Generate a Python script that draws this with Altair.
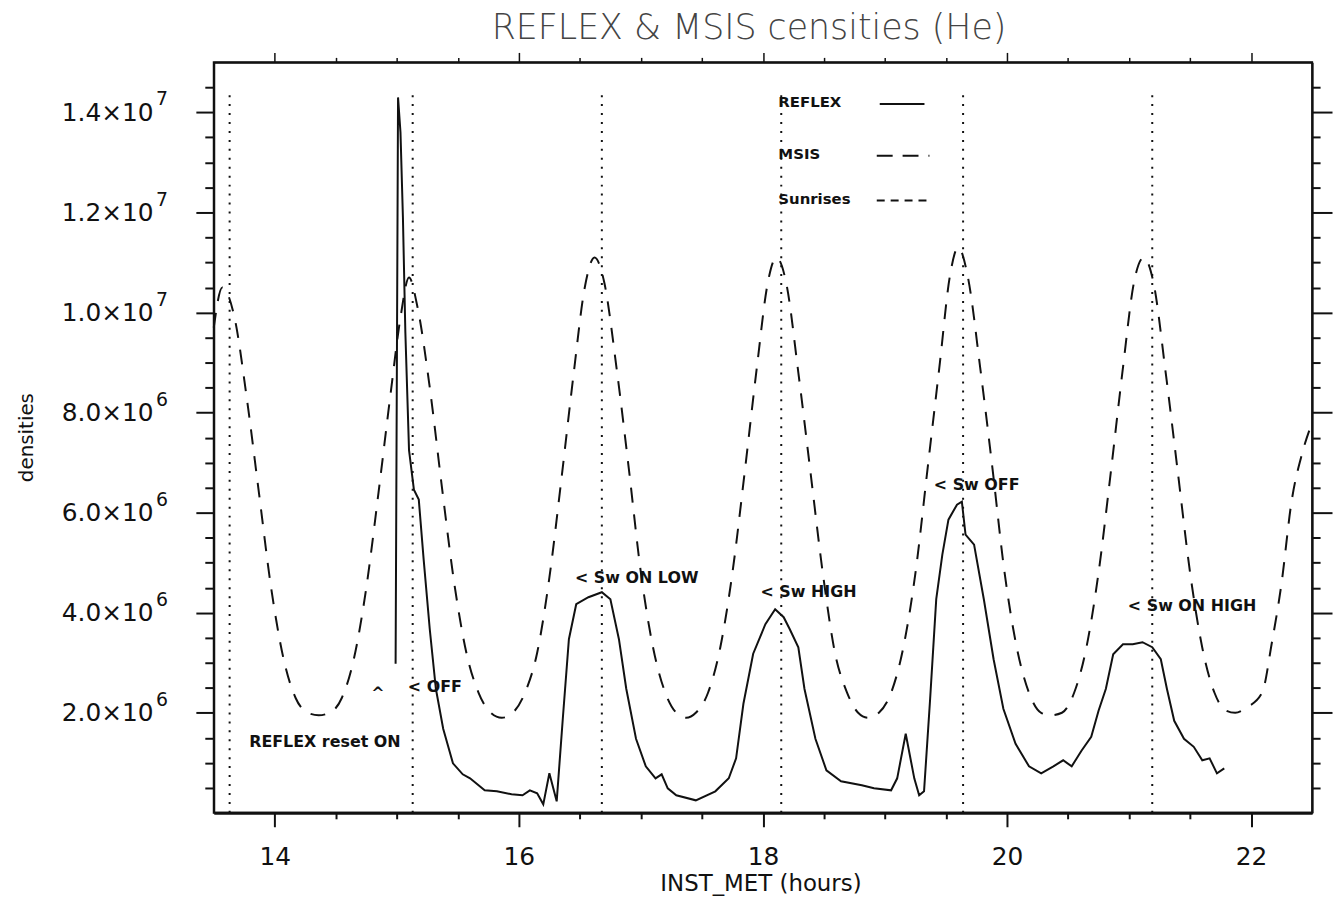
import altair as alt
import pandas as pd

# ---------------- data (time in hours, densities in units of 1e6) ----------------
reflex_t = [14.99, 15.01, 15.03, 15.05, 15.07, 15.10, 15.14, 15.18, 15.22, 15.27,
            15.32, 15.38, 15.46, 15.54, 15.60, 15.72, 15.82, 15.94, 16.03, 16.09,
            16.15, 16.20, 16.25, 16.31, 16.36, 16.41, 16.47, 16.57, 16.68, 16.75,
            16.82, 16.88, 16.96, 17.04, 17.12, 17.17, 17.22, 17.29, 17.45, 17.61,
            17.72, 17.78, 17.84, 17.92, 18.02, 18.10, 18.17, 18.22, 18.29, 18.34,
            18.43, 18.52, 18.64, 18.81, 18.91, 19.05, 19.10, 19.17, 19.24, 19.28,
            19.32, 19.37, 19.42, 19.47, 19.52, 19.59, 19.63, 19.66, 19.73, 19.81,
            19.89, 19.97, 20.07, 20.18, 20.28, 20.38, 20.46, 20.53, 20.61, 20.69,
            20.75, 20.81, 20.87, 20.95, 21.03, 21.11, 21.19, 21.26, 21.31, 21.37,
            21.45, 21.53, 21.60, 21.66, 21.72, 21.78]
reflex_m = [2.98, 14.3, 13.6, 11.9, 9.6, 7.25, 6.46, 6.26, 5.06, 3.67,
            2.48, 1.68, 0.99, 0.77, 0.69, 0.45, 0.43, 0.37, 0.35, 0.45,
            0.39, 0.17, 0.79, 0.23, 1.88, 3.47, 4.17, 4.31, 4.41, 4.27,
            3.47, 2.48, 1.48, 0.93, 0.69, 0.77, 0.49, 0.35, 0.25, 0.43,
            0.69, 1.09, 2.18, 3.18, 3.77, 4.07, 3.91, 3.67, 3.31, 2.48,
            1.48, 0.85, 0.63, 0.55, 0.49, 0.45, 0.69, 1.58, 0.69, 0.35,
            0.43, 2.28, 4.27, 5.16, 5.86, 6.16, 6.22, 5.56, 5.36, 4.27,
            3.07, 2.08, 1.38, 0.93, 0.79, 0.93, 1.05, 0.93, 1.24, 1.52,
            2.04, 2.48, 3.17, 3.37, 3.37, 3.41, 3.31, 3.07, 2.48, 1.84,
            1.48, 1.32, 1.05, 1.09, 0.79, 0.89]

msis_t = [13.50, 13.57, 13.67, 13.77, 13.87, 13.97, 14.07, 14.17, 14.27, 14.36,
          14.45, 14.55, 14.65, 14.75, 14.85, 14.95, 15.03, 15.10, 15.17, 15.27,
          15.37, 15.47, 15.57, 15.67, 15.77, 15.86, 15.95, 16.05, 16.15, 16.25,
          16.35, 16.45, 16.54, 16.62, 16.70, 16.80, 16.90, 17.00, 17.10, 17.20,
          17.29, 17.37, 17.45, 17.55, 17.65, 17.75, 17.85, 17.95, 18.04, 18.11,
          18.19, 18.29, 18.39, 18.49, 18.59, 18.69, 18.78, 18.86, 18.95, 19.05,
          19.15, 19.25, 19.35, 19.45, 19.53, 19.60, 19.68, 19.78, 19.88, 19.98,
          20.08, 20.18, 20.28, 20.36, 20.45, 20.55, 20.65, 20.75, 20.85, 20.95,
          21.04, 21.12, 21.20, 21.30, 21.40, 21.50, 21.60, 21.70, 21.79, 21.87,
          21.96, 22.09, 22.17, 22.25, 22.33, 22.42, 22.50]
msis_m = [9.7, 10.5, 9.9, 8.3, 6.4, 4.5, 3.1, 2.3, 2.0, 1.95,
          2.0, 2.3, 3.1, 4.5, 6.4, 8.4, 9.9, 10.7, 10.1, 8.5,
          6.5, 4.6, 3.2, 2.4, 2.0, 1.9, 2.0, 2.4, 3.2, 4.7,
          6.7, 8.8, 10.5, 11.1, 10.6, 8.9, 6.9, 4.8, 3.3, 2.4,
          2.0, 1.9, 2.0, 2.4, 3.3, 4.8, 6.8, 8.9, 10.6, 11.1,
          10.6, 8.8, 6.8, 4.8, 3.2, 2.4, 2.0, 1.9, 2.0, 2.4,
          3.3, 4.8, 6.9, 9.0, 10.7, 11.3, 10.7, 8.9, 6.9, 4.8,
          3.3, 2.4, 2.0, 1.95, 2.0, 2.4, 3.3, 4.8, 6.8, 8.9,
          10.6, 11.1, 10.6, 8.8, 6.8, 4.8, 3.3, 2.4, 2.05, 2.0,
          2.1, 2.4, 3.4, 4.6, 6.2, 7.2, 7.8]

sunrise_t = [13.63, 15.13, 16.68, 18.15, 19.64, 21.19]
sunrise_bottom = [0.0] * 6
sunrise_top = [14.4] * 6

ann_text = ["< OFF", "^", "REFLEX reset ON", "< Sw ON LOW", "< Sw HIGH",
            "< Sw OFF", "< Sw ON HIGH"]
ann_t = [15.09, 14.79, 13.79, 16.46, 17.98, 19.40, 20.99]
ann_m = [2.52, 2.40, 1.42, 4.70, 4.42, 6.55, 4.13]

legend_labels = ["REFLEX", "MSIS", "Sunrises"]
x_ticks = [14 + 0.5 * i for i in range(17)]       # tick positions, hours
y_ticks = [0.5 * i for i in range(1, 30)]         # tick positions, 1e6
y_major = [2, 4, 6, 8, 10, 12, 14]                # labelled ticks, 1e6
y_mantissa = ["2.0×10", "4.0×10", "6.0×10", "8.0×10", "1.0×10", "1.2×10", "1.4×10"]
y_exponent = ["6", "6", "6", "6", "7", "7", "7"]

# ---------------- tables ----------------
reflex = pd.DataFrame({"t": reflex_t, "d": reflex_m})
msis = pd.DataFrame({"t": msis_t, "d": msis_m})
sun = pd.DataFrame({"t": sunrise_t, "d0": sunrise_bottom, "d1": sunrise_top})
ann = pd.DataFrame({"label": ann_text, "t": ann_t, "d": ann_m})
expo = pd.DataFrame({"v": y_major, "e": y_exponent})
one = pd.DataFrame({"k": [0]})

xs = alt.Scale(domain=[13.5, 22.5], nice=False, zero=False)
ys = alt.Scale(domain=[0, 15], nice=False, zero=False)

FONT = "DejaVu Sans"
INK = "#111111"

mantissa_map = "{" + ", ".join(f"'{v}': '{m}'" for v, m in zip(y_major, y_mantissa)) + "}"

x_bottom = alt.Axis(
    orient="bottom", values=x_ticks,
    tickSize={"condition": {"test": "datum.value % 2 === 0", "value": 14}, "value": 6},
    tickWidth=2, tickColor=INK, domainWidth=3, domainColor=INK,
    labelExpr="datum.value % 2 === 0 ? format(datum.value, 'd') : ''",
    labelFont=FONT, labelFontSize=25, labelColor=INK, labelBaseline="middle",
    labelPadding=30, labelFlush=False, labelOverlap=False,
    title="INST_MET (hours)", titleFont=FONT, titleFontSize=23, titleFontWeight="normal",
    titleColor=INK, titleX=550, titleY=71, titleAlign="center", titleBaseline="middle",
    grid=False,
)
y_left = alt.Axis(
    orient="left", values=y_ticks,
    tickSize={"condition": {"test": "datum.value % 2 === 0", "value": 18}, "value": 9},
    tickWidth=2, tickColor=INK, domainWidth=2, domainColor=INK,
    labelExpr=f"datum.value % 2 === 0 ? ({mantissa_map})['' + datum.value] : ''",
    labelFont=FONT, labelFontSize=25, labelColor=INK, labelAlign="right",
    labelBaseline="middle", labelPadding=43, labelFlush=False, labelOverlap=False,
    title="densities", titleFont=FONT, titleFontSize=20, titleFontWeight="normal",
    titleColor=INK, titleX=-188, titleY=377, titleAngle=270, titleAlign="center",
    titleBaseline="middle",
    grid=False,
)
x_top = alt.Axis(
    orient="top", values=x_ticks,
    tickSize={"condition": {"test": "datum.value % 2 === 0", "value": 10}, "value": 5},
    tickWidth=1.5, tickColor=INK, domainWidth=2, domainColor=INK,
    labels=False, title=None, grid=False,
)
y_right = alt.Axis(
    orient="right", values=y_ticks,
    tickSize={"condition": {"test": "datum.value % 2 === 0", "value": 20}, "value": 8},
    tickWidth=2, tickColor=INK, domainWidth=2, domainColor=INK,
    labels=False, title=None, grid=False,
)

msis_layer = alt.Chart(msis).mark_line(
    color=INK, strokeWidth=2, strokeDash=[15, 12], interpolate="monotone"
).encode(
    x=alt.X("t:Q", scale=xs, axis=x_bottom),
    y=alt.Y("d:Q", scale=ys, axis=y_left),
)

reflex_layer = alt.Chart(reflex).mark_line(color=INK, strokeWidth=2).encode(
    x=alt.X("t:Q", scale=xs, axis=x_top),
    y=alt.Y("d:Q", scale=ys, axis=y_right),
)

sun_layer = alt.Chart(sun).mark_rule(
    color=INK, strokeWidth=2, strokeDash=[2, 7]
).encode(
    x=alt.X("t:Q", scale=xs, axis=None),
    y=alt.Y("d0:Q", scale=ys, axis=None),
    y2="d1:Q",
)

ann_layer = alt.Chart(ann).mark_text(
    align="left", baseline="middle", font=FONT, fontSize=16, fontWeight="bold", color=INK
).encode(
    x=alt.X("t:Q", scale=xs, axis=None),
    y=alt.Y("d:Q", scale=ys, axis=None),
    text="label:N",
)

# exponents of the y tick labels, set as superscripts next to the axis labels
expo_layer = alt.Chart(expo).mark_text(
    align="left", baseline="middle", font=FONT, fontSize=19, color=INK, dy=-13
).encode(
    x=alt.value(-58),
    y=alt.Y("v:Q", scale=ys, axis=None),
    text="e:N",
)

# legend drawn inside the plot, label on the left and line sample on the right
leg_text_style = dict(align="left", baseline="middle", font=FONT, fontSize=15,
                      fontWeight="bold", color=INK)
leg_layers = []
leg_rows = [(legend_labels[0], 40, None), (legend_labels[1], 92, [16, 10]),
            (legend_labels[2], 137, [8, 6])]
for lab, yy, dash in leg_rows:
    leg_layers.append(
        alt.Chart(one).mark_text(**leg_text_style).encode(
            x=alt.value(568), y=alt.value(yy), text=alt.value(lab))
    )
    rule_kw = dict(color=INK, strokeWidth=2)
    if dash is not None:
        rule_kw["strokeDash"] = dash
    leg_layers.append(
        alt.Chart(one).mark_rule(**rule_kw).encode(
            x=alt.value(667 if dash else 670), x2=alt.value(720 if dash else 715),
            y=alt.value(yy + 2))
    )

chart = alt.layer(
    msis_layer, reflex_layer, sun_layer, ann_layer, expo_layer, *leg_layers
).resolve_axis(x="independent", y="independent").properties(
    width=1105, height=755,
    autosize=alt.AutoSizeParams(type="none"),
    padding={"left": 207, "top": 52, "right": 21, "bottom": 86},
    title=alt.TitleParams(
        "REFLEX & MSIS censities (He)", font=FONT, fontSize=35, fontWeight=200,
        color="#444444", anchor="middle", dx=-14, offset=6,
    ),
    background="white",
).configure_view(stroke=INK, strokeWidth=2)

chart.save("out.html", embed_options={"renderer": "svg", "actions": False})
